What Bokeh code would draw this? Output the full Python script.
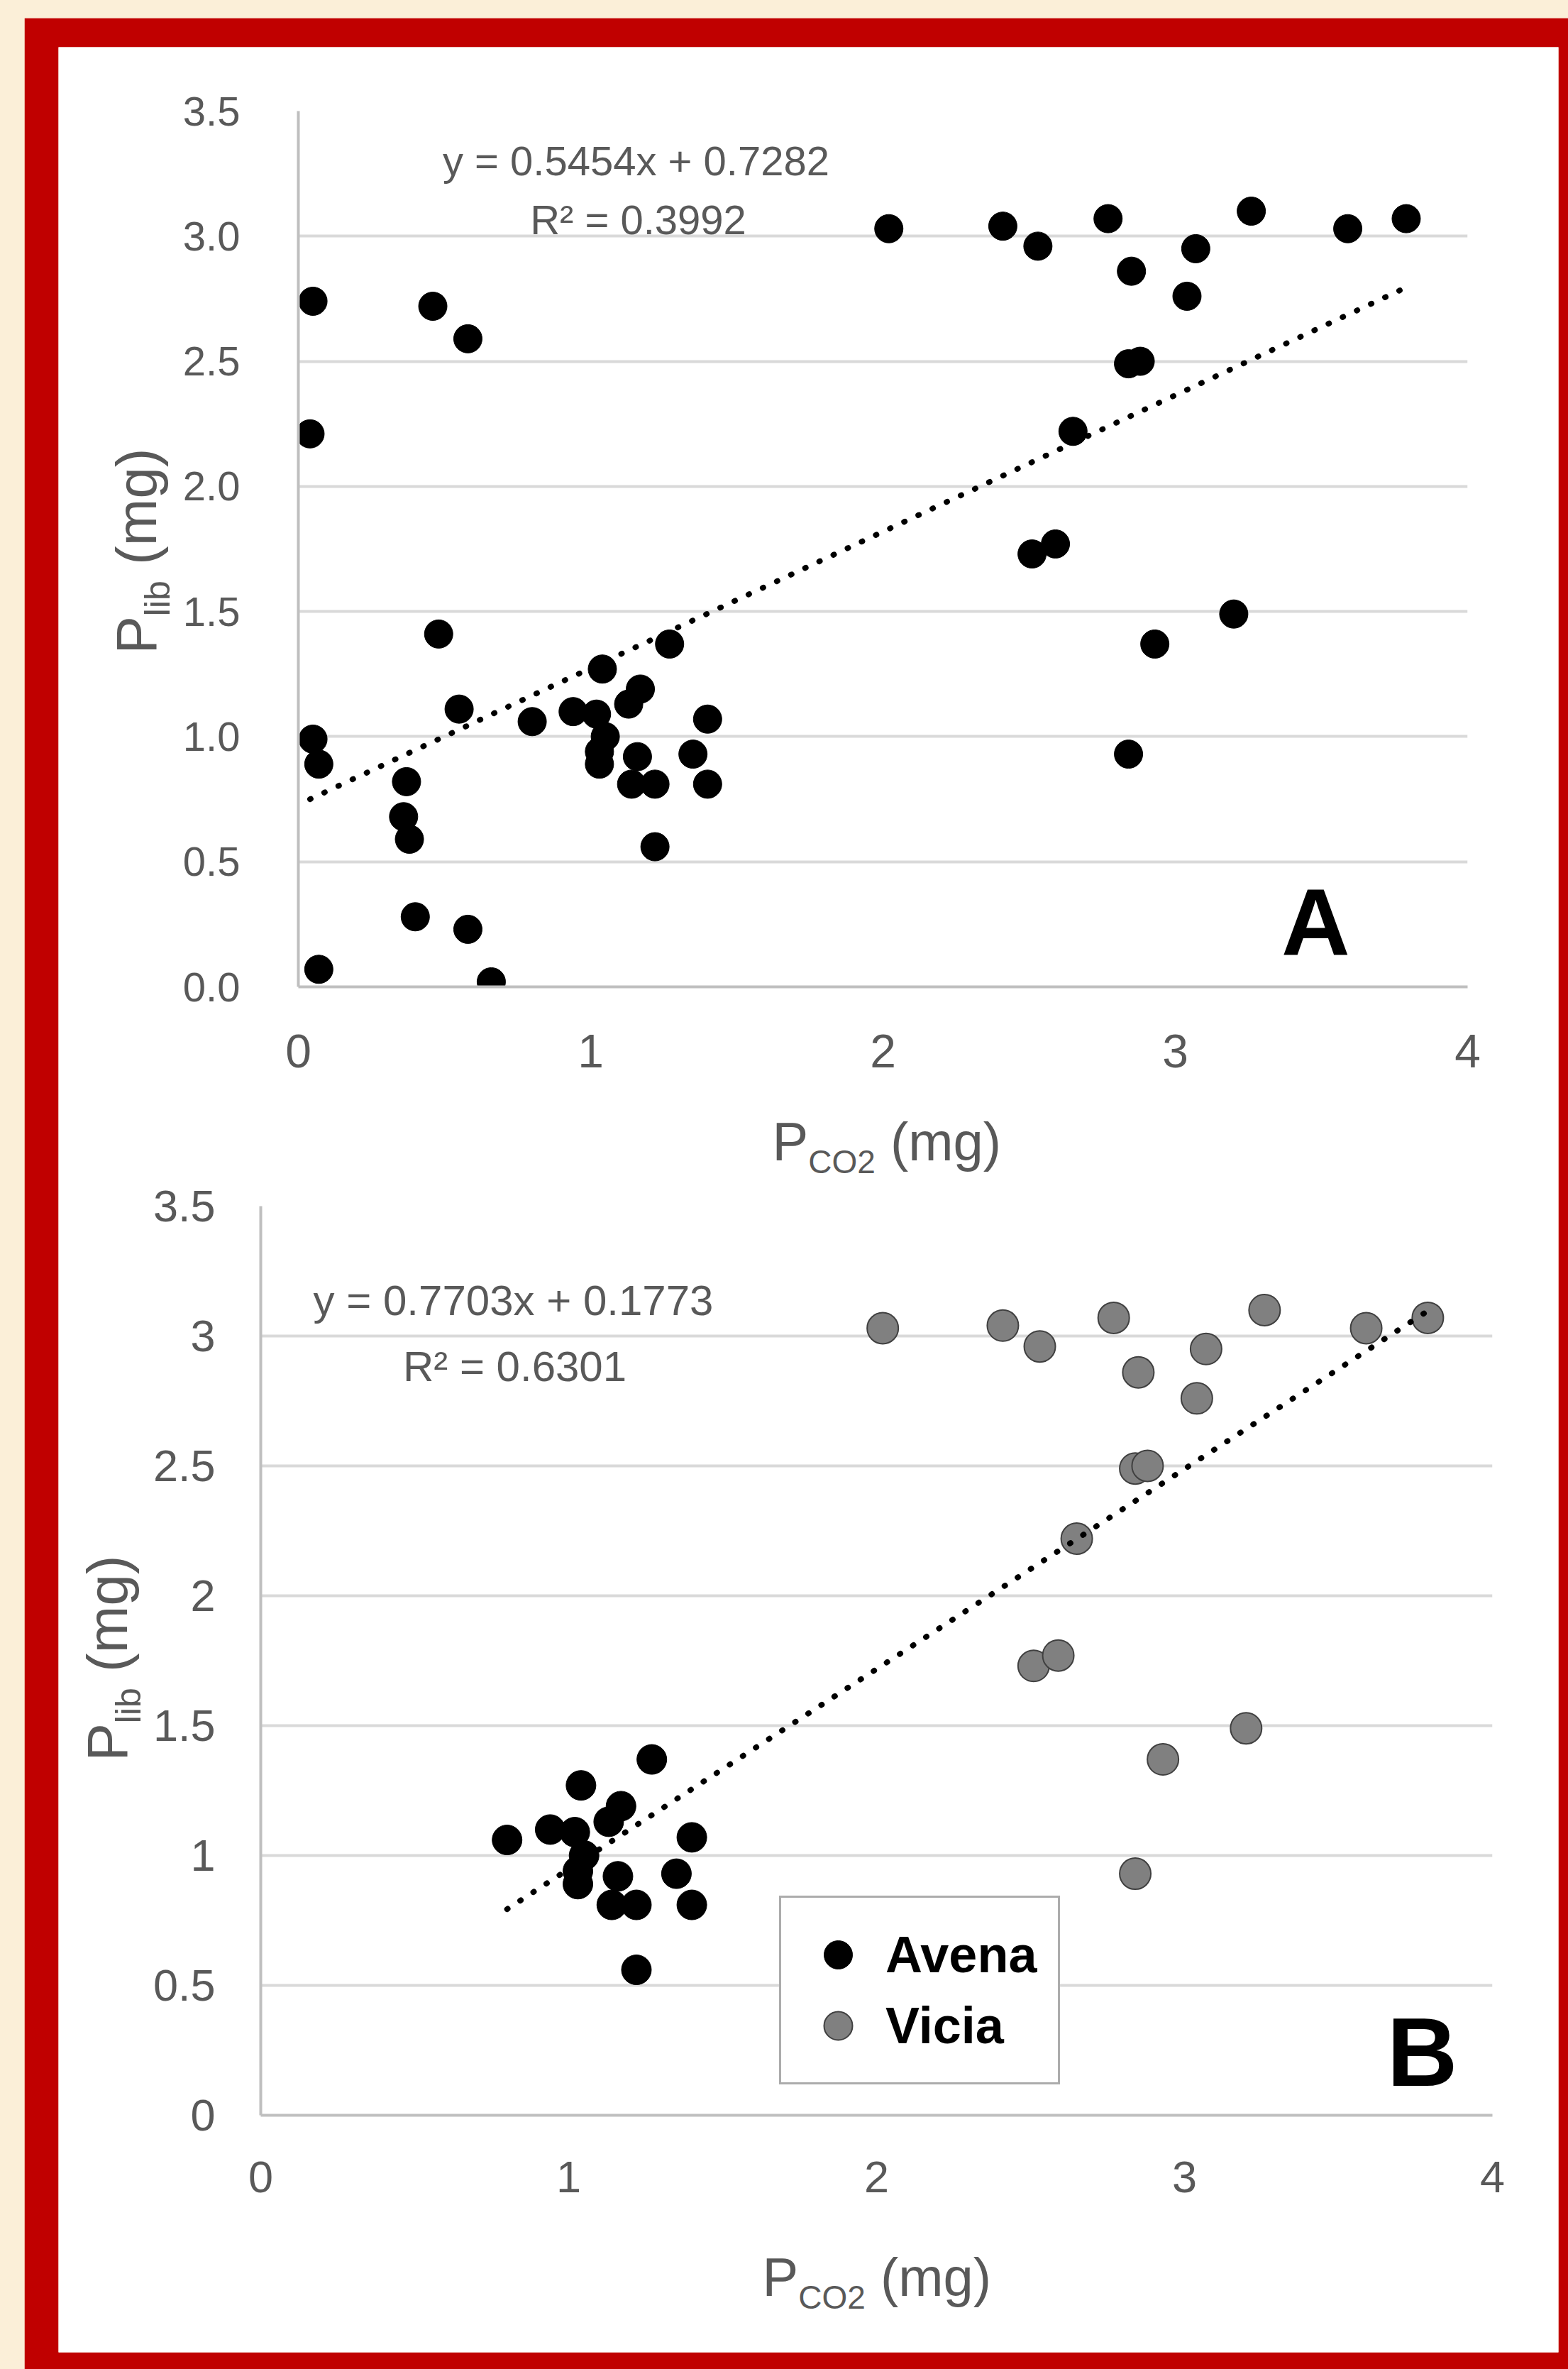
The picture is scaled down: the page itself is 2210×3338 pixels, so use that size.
import math
from bokeh.plotting import figure
from bokeh.models import Range1d, Label, FixedTicker
from bokeh.embed import file_html
from bokeh.resources import INLINE

# ---------------- data ----------------
avena_x = [0.80, 0.94, 1.02, 1.04, 1.05, 1.03, 1.03, 1.13, 1.17, 1.27, 1.16, 1.14, 1.22, 1.22, 1.40, 1.35, 1.40]
avena_y = [1.06, 1.10, 1.09, 1.27, 1.00, 0.94, 0.89, 1.13, 1.19, 1.37, 0.92, 0.81, 0.81, 0.56, 1.07, 0.93, 0.81]

vicia_x = [2.02, 2.41, 2.53, 2.77, 2.85, 3.07, 3.26, 3.04, 3.59, 3.79, 2.84, 2.88, 2.65, 2.51, 2.59, 3.20, 2.93, 2.84]
vicia_y = [3.03, 3.04, 2.96, 3.07, 2.86, 2.95, 3.10, 2.76, 3.03, 3.07, 2.49, 2.50, 2.22, 1.73, 1.77, 1.49, 1.37, 0.93]

# points shown only in panel A
other_x = [0.05, 0.46, 0.58, 0.04, 0.48, 0.55, 0.05, 0.07, 0.37, 0.36, 0.38, 0.40, 0.58, 0.07, 0.66]
other_y = [2.74, 2.72, 2.59, 2.21, 1.41, 1.11, 0.99, 0.89, 0.82, 0.68, 0.59, 0.28, 0.23, 0.07, 0.02]

x_ticks = [0, 1, 2, 3, 4]
x_tick_labels = ["0", "1", "2", "3", "4"]
y_ticks = [0, 0.5, 1, 1.5, 2, 2.5, 3, 3.5]
y_tick_labels_a = ["0.0", "0.5", "1.0", "1.5", "2.0", "2.5", "3.0", "3.5"]
y_tick_labels_b = ["0", "0.5", "1", "1.5", "2", "2.5", "3", "3.5"]

fit_a = [0.5454, 0.7282, 0.3992]   # slope, intercept, R2
fit_b = [0.7703, 0.1773, 0.6301]
series_names = ["Avena", "Vicia"]
panel_letters = ["A", "B"]
x_title = ["P", "CO2", "(mg)"]
y_title = ["P", "lib", "(mg)"]

# ---------------- style ----------------
FONT = "Liberation Sans"
GREY = "#595959"
RED = "#C00000"
BEIGE = "#FBEFD8"
BASE = 0.33   # baseline correction (fraction of font size)

# page geometry of the two panels (px)
A = dict(left=82, top=66, w=2114, h=1594, bl=338, br=128, bt=90, bb=270)
B = dict(left=82, top=1660, w=2114, h=1654, bl=285, br=93, bt=39, bb=334)


def conv(g):
    fl = g["left"] + g["bl"]
    fr = g["left"] + g["w"] - g["br"]
    ft = g["top"] + g["bt"]
    fb = g["top"] + g["h"] - g["bb"]
    def f(px, py):
        return ((px - fl) / (fr - fl) * 4.0, (fb - py) / (fb - ft) * 3.5)
    return f


def abs_style(left, top):
    return {"position": "absolute", "left": f"{left}px", "top": f"{top}px"}


def make_panel(g, ylabels, xsize, ysize, xstand, ystand):
    p = figure(width=g["w"], height=g["h"], x_range=Range1d(0, 4), y_range=Range1d(0, 3.5),
               output_backend="svg", toolbar_location=None, title=None,
               min_border_left=g["bl"], min_border_right=g["br"],
               min_border_top=g["bt"], min_border_bottom=g["bb"],
               border_fill_alpha=0.0, background_fill_alpha=0.0,
               outline_line_color=None, styles=abs_style(g["left"], g["top"]))
    p.xaxis.ticker = FixedTicker(ticks=x_ticks)
    p.yaxis.ticker = FixedTicker(ticks=y_ticks)
    p.xaxis.major_label_overrides = dict(zip(x_ticks, x_tick_labels))
    p.yaxis.major_label_overrides = dict(zip(y_ticks, ylabels))
    for ax in (p.xaxis[0], p.yaxis[0]):
        ax.major_tick_in = 0
        ax.major_tick_out = 0
        ax.minor_tick_in = 0
        ax.minor_tick_out = 0
        ax.axis_line_color = "#BFBFBF"
        ax.axis_line_width = 4
        ax.major_label_text_font = FONT
        ax.major_label_text_color = GREY
    p.xaxis.major_label_text_font_size = f"{xsize}px"
    p.yaxis.major_label_text_font_size = f"{ysize}px"
    p.xaxis.major_label_standoff = xstand
    p.yaxis.major_label_standoff = ystand
    p.xgrid.grid_line_color = None
    p.ygrid.grid_line_color = "#D9D9D9"
    p.ygrid.grid_line_width = 4
    return p


def add_text(p, pos, text, size, color=GREY, bold=False, align="left", angle=0.0):
    p.add_layout(Label(x=pos[0], y=pos[1], text=text, text_font=FONT,
                       text_font_size=f"{size}px", text_color=color,
                       text_font_style="bold" if bold else "normal",
                       text_align=align, text_baseline="alphabetic", angle=angle))


# ---------------- page (red frame + white sheet + axis titles) ----------------
page = figure(width=2176, height=3313, x_range=Range1d(82, 2196), y_range=Range1d(3314, 66),
              x_axis_type=None, y_axis_type=None, output_backend="svg",
              toolbar_location=None, title=None,
              min_border_left=48, min_border_right=14, min_border_top=41, min_border_bottom=24,
              border_fill_color=RED, background_fill_color="white", outline_line_color=None,
              styles=abs_style(34, 25))


def page_text(px, base, text, size, angle=0.0):
    # page coordinates: y grows downward; shift anchor for the baseline
    if angle == 0.0:
        add_text(page, (px, base - BASE * size), text, size)
    else:
        add_text(page, (base - BASE * size, px), text, size, angle=angle)


def x_axis_title(left, base):
    big, small = 76, 46
    page_text(left, base, x_title[0], big)
    l2 = left + 0.667 * big
    page_text(l2, base + 19, x_title[1], small)
    l3 = l2 + 2.056 * small + 0.278 * big
    page_text(l3, base, x_title[2], big)


def y_axis_title(start, base):
    big, small = 80, 50
    page_text(start, base, y_title[0], big, angle=math.pi / 2)
    s2 = start - 0.667 * big
    page_text(s2, base + 20, y_title[1], small, angle=math.pi / 2)
    s3 = s2 - 1.0 * small - 0.278 * big
    page_text(s3, base, y_title[2], big, angle=math.pi / 2)


x_axis_title(1088, 1633)
y_axis_title(921, 218)
x_axis_title(1074, 3233)
y_axis_title(2481, 177)

# ---------------- panel A ----------------
fa = conv(A)
p1 = make_panel(A, y_tick_labels_a, 66, 58, 67, 82)
p1.scatter(other_x, other_y, size=40, color="black")
p1.scatter(avena_x, avena_y, size=40, color="black")
p1.scatter(vicia_x, vicia_y, size=40, color="black")
all_ax = other_x + avena_x + vicia_x
xa0, xa1 = min(all_ax), max(all_ax)
p1.line([xa0, xa1], [fit_a[0] * xa0 + fit_a[1], fit_a[0] * xa1 + fit_a[1]],
        line_color="black", line_width=8, line_dash="1 21", line_cap="round")
add_text(p1, fa(896, 245 - BASE * 58), f"y = {fit_a[0]:.4f}x + {fit_a[1]:.4f}", 58, align="center")
add_text(p1, fa(899, 328 - BASE * 58), f"R² = {fit_a[2]:.4f}", 58, align="center")
add_text(p1, fa(1854, 1343 - BASE * 134), panel_letters[0], 134, color="black", bold=True, align="center")

# ---------------- panel B ----------------
fb = conv(B)
p2 = make_panel(B, y_tick_labels_b, 63, 63, 65, 64)
p2.scatter(avena_x, avena_y, size=42, color="black", legend_label=series_names[0])
p2.scatter(vicia_x, vicia_y, size=44, fill_color="#808080", line_color="#404040",
           line_width=2, legend_label=series_names[1])
all_bx = avena_x + vicia_x
xb0, xb1 = min(all_bx), max(all_bx)
p2.line([xb0, xb1], [fit_b[0] * xb0 + fit_b[1], fit_b[0] * xb1 + fit_b[1]],
        line_color="black", line_width=8, line_dash="1 21", line_cap="round")
add_text(p2, fb(723, 1852 - BASE * 60), f"y = {fit_b[0]:.4f}x + {fit_b[1]:.4f}", 60, align="center")
add_text(p2, fb(725, 1945 - BASE * 60), f"R² = {fit_b[2]:.4f}", 60, align="center")
add_text(p2, fb(2004, 2936 - BASE * 138), panel_letters[1], 138, color="black", bold=True, align="center")

leg = p2.legend[0]
leg.location = (731, 43)
leg.margin = 0
leg.padding = 30
leg.spacing = 0
leg.glyph_width = 100
leg.glyph_height = 100
leg.label_standoff = 17
leg.label_text_font = FONT
leg.label_text_font_style = "bold"
leg.label_text_font_size = "72px"
leg.label_text_color = "black"
leg.border_line_color = GREY
leg.border_line_width = 3
leg.background_fill_color = "white"
leg.background_fill_alpha = 1.0

TEMPLATE = """
{% block postamble %}
<style>html, body { margin: 0 !important; padding: 0 !important; background: """ + BEIGE + """ !important; }</style>
{% endblock %}
"""

open("out.html", "w").write(file_html([page, p1, p2], INLINE, title="Plib vs PCO2", template=TEMPLATE))
